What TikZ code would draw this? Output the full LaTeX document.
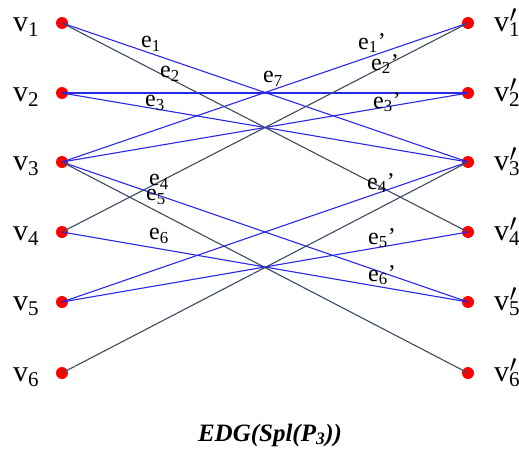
\documentclass[tikz,border=0pt]{standalone}
\usepackage{fontspec}
\setmainfont{Liberation Serif}
\definecolor{myblue}{RGB}{40,40,230}
\definecolor{mygray}{RGB}{60,75,95}
\begin{document}
\begin{tikzpicture}[x=1pt,y=-1pt,
  dot/.style={circle, fill=red, inner sep=0pt, minimum size=12pt},
  bl/.style={draw=myblue, line width=1.1pt},
  gr/.style={draw=mygray, line width=1.1pt},
  vlab/.style={font=\fontsize{30}{30}\selectfont, inner sep=0pt, anchor=base west},
  elab/.style={font=\fontsize{24}{24}\selectfont, inner sep=0pt},
  ttl/.style={font=\fontsize{25}{25}\selectfont\bfseries\itshape, inner sep=0pt, anchor=base}]
\useasboundingbox (0,0) rectangle (519,450);
% nodes
\foreach \i/\y in {1/23,2/93,3/162,4/232,5/302,6/373}{
  \node[dot] (a\i) at (62,\y) {};
  \node[dot] (b\i) at (468,\y) {};
}
% vertex labels
\foreach \i/\y in {1/23,2/93,3/162,4/232,5/302,6/373}{
  \node[vlab] (la\i) at (13,\y+8) {v\textsubscript{\i}};
  \node[vlab] (lb\i) at (494,\y+8) {v\rlap{\kern0.5pt\raisebox{9pt}{$\prime$}}\textsubscript{\i}};
}
% edges
\draw[bl] (a1.center) -- (b3.center);
\draw[gr] (a1.center) -- (b4.center);
\draw[bl] (a2.center) -- (b2.center);
\draw[bl] (a2.center) -- (b3.center);
\draw[bl] (a3.center) -- (b1.center);
\draw[bl] (a3.center) -- (b2.center);
\draw[bl] (a3.center) -- (b5.center);
\draw[gr] (a3.center) -- (b6.center);
\draw[gr] (a4.center) -- (b1.center);
\draw[bl] (a4.center) -- (b5.center);
\draw[bl] (a5.center) -- (b3.center);
\draw[bl] (a5.center) -- (b4.center);
\draw[gr] (a6.center) -- (b3.center);
% edge labels
\node[elab] (e1) at (151,44) {e\textsubscript{1}};
\node[elab] (e2) at (170,74) {e\textsubscript{2}};
\node[elab] (e3) at (155,103) {e\textsubscript{3}};
\node[elab] (e7) at (273,79) {e\textsubscript{7}};
\node[elab] (e4) at (159,182) {e\textsubscript{4}};
\node[elab] (e5) at (156,197) {e\textsubscript{5}};
\node[elab] (e6) at (159,236) {e\textsubscript{6}};
\node[elab] (f1) at (372,43) {e\textsubscript{1}’};
\node[elab] (f2) at (385,64) {e\textsubscript{2}’};
\node[elab] (f3) at (387,102) {e\textsubscript{3}’};
\node[elab] (f4) at (381,183) {e\textsubscript{4}’};
\node[elab] (f5) at (382,238) {e\textsubscript{5}’};
\node[elab] (f6) at (382,275) {e\textsubscript{6}’};
% title
\node[ttl] (title) at (270,441) {EDG(Spl(P\textsubscript{3}))};
\end{tikzpicture}
\end{document}
